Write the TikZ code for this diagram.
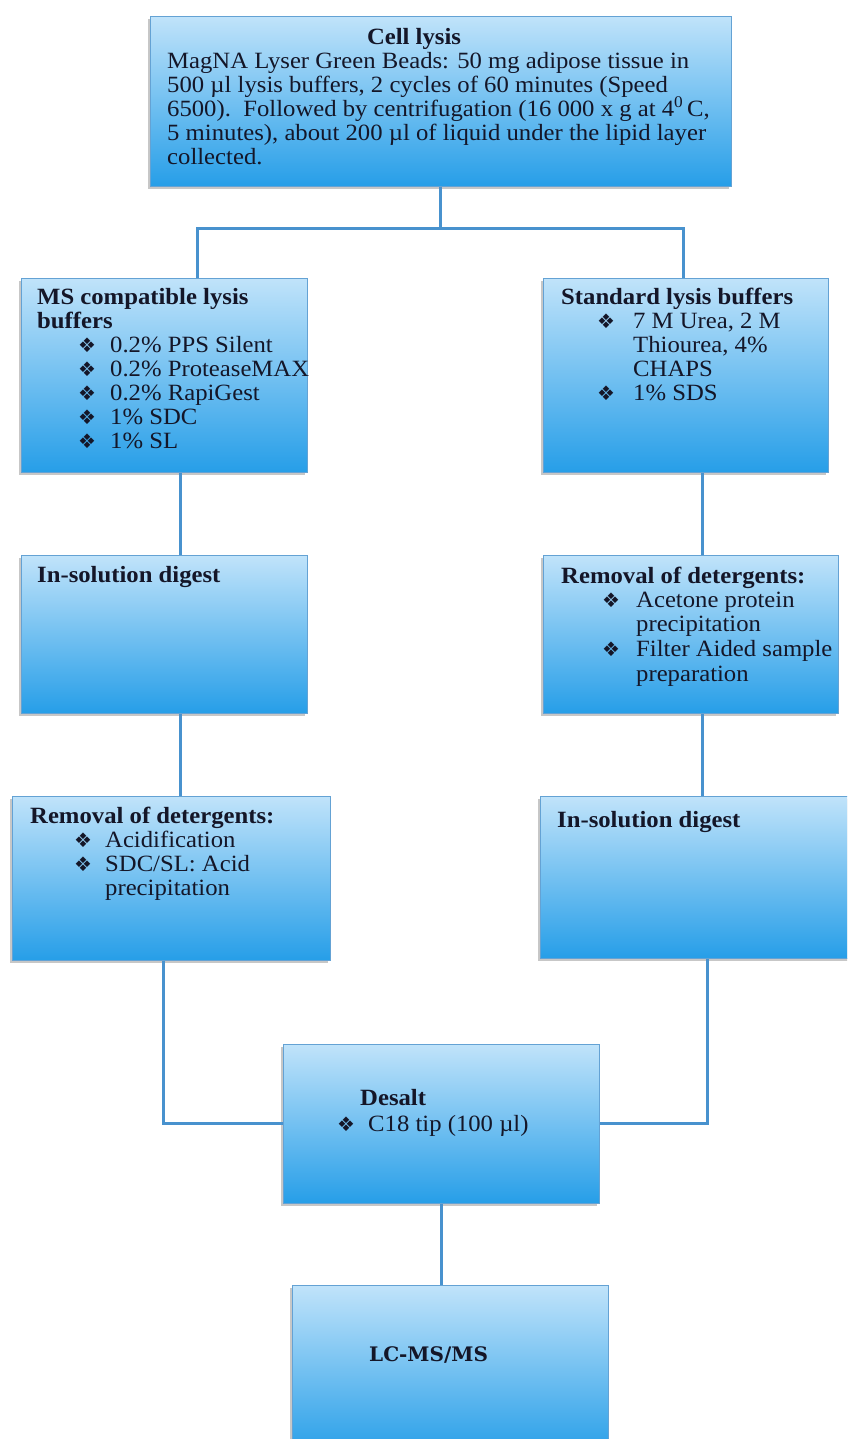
\documentclass[tikz,border=0pt]{standalone}
\usepackage{fontspec}
\setmainfont{Liberation Serif}[FakeStretch=1.06]
\newfontfamily\symfont{DejaVu Sans}
\newfontfamily\lcfont{DejaVu Serif}
\usetikzlibrary{shadows}
\definecolor{boxtop}{RGB}{192,227,250}
\definecolor{boxbot}{RGB}{38,158,232}
\definecolor{boxedge}{RGB}{100,162,212}
\definecolor{linkcol}{RGB}{72,146,206}
\definecolor{ink}{RGB}{20,22,40}
\tikzset{
  box/.style={draw=boxedge, line width=0.8pt, top color=boxtop, bottom color=boxbot,
    anchor=north west, inner sep=0pt,
    drop shadow={shadow xshift=-2pt, shadow yshift=-3pt, fill=black, opacity=0.22}},
  link/.style={draw=linkcol, line width=3pt},
  txt/.style={anchor=base west, inner sep=0pt, text=ink, font=\fontsize{23.3}{24}\selectfont},
  hd/.style={anchor=base west, inner sep=0pt, text=ink, font=\fontsize{23.3}{24}\selectfont\bfseries},
  bul/.style={anchor=base west, inner sep=0pt, text=ink, font=\fontsize{20}{24}\selectfont\symfont},
}
\begin{document}
\begin{tikzpicture}[x=1pt,y=-1pt]
\useasboundingbox (0,0) rectangle (847,1439);
\clip (0,0) rectangle (847,1439);
% boxes
\node[box, minimum width=581pt, minimum height=170pt] (cell) at (150,16) {};
\node[box, minimum width=286pt, minimum height=194pt] (ms) at (21,278) {};
\node[box, minimum width=285pt, minimum height=194pt] (std) at (543,278) {};
\node[box, minimum width=286pt, minimum height=158pt] (digL) at (21,555) {};
\node[box, minimum width=295pt, minimum height=158pt] (remR) at (543,555) {};
\node[box, minimum width=318pt, minimum height=164pt] (remL) at (12,796) {};
\node[box, minimum width=310pt, minimum height=162pt] (digR) at (540,796) {};
\node[box, minimum width=316pt, minimum height=159pt] (desalt) at (283,1044) {};
\node[box, minimum width=316pt, minimum height=170pt] (lcms) at (292,1285) {};
% connectors
\draw[link] (cell.south) -- ++(0,42) coordinate (jn);
\draw[link] ([xshift=176pt]ms.north west) |- (jn) -| ([xshift=140pt]std.north west);
\draw[link] ([xshift=159pt]ms.south west) -- ([xshift=159pt]digL.north west);
\draw[link] ([xshift=159pt]std.south west) -- ([xshift=159pt]remR.north west);
\draw[link] ([xshift=159pt]digL.south west) -- ([xshift=168pt]remL.north west);
\draw[link] ([xshift=159pt]remR.south west) -- ([xshift=162pt]digR.north west);
\draw[link] ([xshift=151pt]remL.south west) |- (desalt.west);
\draw[link] ([xshift=167pt]digR.south west) |- (desalt.east);
\draw[link] (desalt.south) -- (desalt.south |- lcms.north);
% cell lysis text
\node[hd, anchor=base] (t0) at (414,45) {Cell lysis};
\node[txt] (t1) at (167,69) {MagNA Lyser Green Beads: 50 mg adipose tissue in};
\node[txt] (t2) at (167,93) {500 µl lysis buffers, 2 cycles of 60 minutes (Speed};
\node[txt] (t3) at (167,117) {6500).\ \ Followed by centrifugation (16 000 x g at 4\textsuperscript{0}\,C,};
\node[txt] (t4) at (167,141) {5 minutes), about 200 µl of liquid under the lipid layer};
\node[txt] (t5) at (167,165) {collected.};
% MS compatible
\node[hd] (m0) at (37,304) {MS compatible lysis};
\node[hd] (m1) at (37,328) {buffers};
\foreach \y/\t [count=\i] in {352/0.2\% PPS Silent, 376/0.2\% ProteaseMAX, 400/0.2\% RapiGest, 424/1\% SDC, 448/1\% SL}{
  \node[bul] (mb\i) at (78,\y) {❖};
  \node[txt] (mt\i) at (110,\y) {\t};
}
% Standard
\node[hd] (s0) at (561,304) {Standard lysis buffers};
\node[bul] (sb1) at (597,328) {❖};
\node[txt] (s1) at (633,328) {7 M Urea, 2 M};
\node[txt] (s2) at (633,352) {Thiourea, 4\%};
\node[txt] (s3) at (633,376) {CHAPS};
\node[bul] (sb2) at (597,400) {❖};
\node[txt] (s4) at (633,400) {1\% SDS};
% in-solution digest left
\node[hd] (d0) at (37,582) {In-solution digest};
% removal right
\node[hd] (r0) at (561,583) {Removal of detergents:};
\node[bul] (rb1) at (602,607) {❖};
\node[txt] (r1) at (636,607) {Acetone protein};
\node[txt] (r2) at (636,631) {precipitation};
\node[bul] (rb2) at (602,656) {❖};
\node[txt] (r3) at (636,656) {Filter Aided sample};
\node[txt] (r4) at (636,681) {preparation};
% removal left
\node[hd] (l0) at (30,823) {Removal of detergents:};
\node[bul] (lb1) at (74,847) {❖};
\node[txt] (l1) at (105,847) {Acidification};
\node[bul] (lb2) at (74,871) {❖};
\node[txt] (l2) at (105,871) {SDC/SL: Acid};
\node[txt] (l3) at (105,895) {precipitation};
% in-solution digest right
\node[hd] (e0) at (557,827) {In-solution digest};
% desalt
\node[hd] (x0) at (360,1105) {Desalt};
\node[bul] (xb) at (337,1131) {❖};
\node[txt] (x1) at (368,1131) {C18 tip (100 µl)};
% LC-MS/MS
\node[anchor=base west, inner sep=0pt, text=ink, font=\fontsize{20}{24}\selectfont\lcfont\bfseries] (lc) at (369,1361) {LC-MS/MS};
\end{tikzpicture}
\end{document}
